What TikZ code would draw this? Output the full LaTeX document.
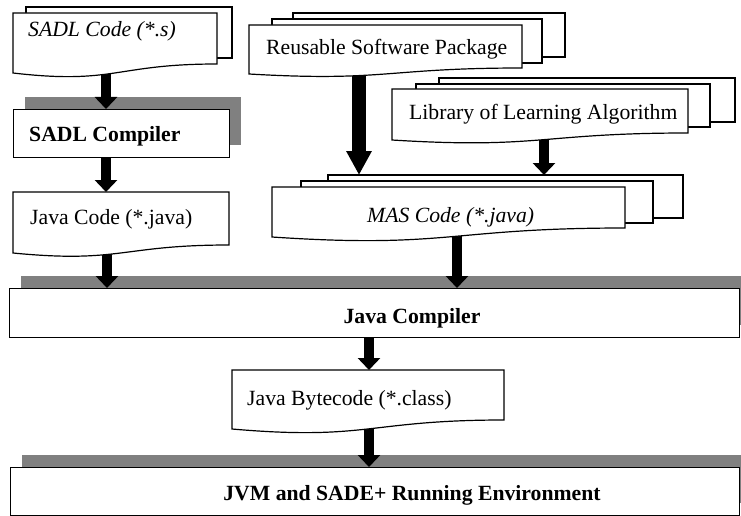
\documentclass[tikz,border=0pt]{standalone}
\usepackage{fontspec}
\setmainfont{Liberation Serif}
\usetikzlibrary{arrows.meta,calc}
\definecolor{shadegray}{HTML}{808080}

% front page of a document symbol: left x, top y, right x, right-end y, left-end y
\newcommand{\frontpage}[5]{%
  \pgfmathsetmacro{\fpmid}{(#1+#3)/2}%
  \pgfmathsetmacro{\fpdip}{#5+1.316*(#5-#4)}%
  \draw[outline] (#1,#2) -- (#3,#2) -- (#3,#4)
    .. controls (\fpmid,#4) and (\fpmid,\fpdip) .. (#1,#5) -- cycle;}
% a page stacked behind the front one
\newcommand{\backpage}[4]{\draw[outline] (#1,#2) rectangle (#3,#4);}

\begin{document}
\begin{tikzpicture}[x=1pt,y=-1pt,
  outline/.style={draw=black,line width=1.2pt,fill=white,line join=miter},
  box/.style={outline,rectangle,inner sep=0pt,anchor=north west},
  frame/.style={draw=none,rectangle,inner sep=0pt,anchor=north west},
  lbl/.style={font=\fontsize{21.7}{26}\selectfont,inner sep=0pt,anchor=base west},
  arr/.style={line width=10pt,-{Triangle[width=22pt,length=12pt]}},
  bigarr/.style={line width=14pt,-{Triangle[width=24pt,length=24pt]}}]
\useasboundingbox (0,0) rectangle (741,516);

% drop shadows of the processing boxes
\fill[shadegray] (25,97) rectangle (241,145);
\fill[shadegray] (21,276) rectangle (741,325);
\fill[shadegray] (22,455) rectangle (741,503);

% processing boxes
\node[box,minimum width=216pt,minimum height=48pt] (sadlc) at (13,109) {};
\node[box,minimum width=730pt,minimum height=49pt] (javac) at (9,288) {};
\node[box,minimum width=729pt,minimum height=48pt] (jvm) at (10,467) {};

% extents of the document symbols
\node[frame,minimum width=219pt,minimum height=66pt] (sadl) at (13,7) {};
\node[frame,minimum width=316pt,minimum height=61pt] (reuse) at (249,13) {};
\node[frame,minimum width=343pt,minimum height=62pt] (lib) at (392,78) {};
\node[frame,minimum width=411pt,minimum height=62pt] (mas) at (272,175) {};
\node[frame,minimum width=216pt,minimum height=61pt] (jcode) at (13,192) {};
\node[frame,minimum width=272pt,minimum height=59pt] (bcode) at (232,370) {};

% points where the arrows leave the wavy document bottoms
\coordinate (sadl-out) at (106,70);
\coordinate (jcode-out) at (107,250);
\coordinate (reuse-out) at (359,70);
\coordinate (lib-out) at (544,136);
\coordinate (mas-out) at (457,233);
\coordinate (bcode-out) at (369,425);
\coordinate (jc-x) at (106,0);
\coordinate (cc-x) at (369,0);

% flow arrows
\draw[arr] (sadl-out) -- (sadl-out |- sadlc.north);
\draw[arr] (sadlc.south -| jc-x) -- (jc-x |- jcode.north);
\draw[arr] (jcode-out) -- (jcode-out |- javac.north);
\draw[bigarr] (reuse-out) -- (reuse-out |- mas.north);
\draw[arr] (lib-out) -- (lib-out |- mas.north);
\draw[arr] (mas-out) -- (mas-out |- javac.north);
\draw[arr] (javac.south -| cc-x) -- (cc-x |- bcode.north);
\draw[arr] (bcode-out) -- (bcode-out |- jvm.north);

% document symbols
\backpage{26}{7}{232}{58}
\frontpage{13}{13}{217}{64}{73}

\backpage{293}{13}{565}{57}
\backpage{272}{19}{542}{63}
\frontpage{249}{25}{522}{68}{74}

\backpage{439}{78}{735}{122}
\backpage{416}{84}{710}{127}
\frontpage{392}{89}{688}{133}{140}

\backpage{328}{175}{683}{218}
\backpage{301}{181}{653}{223}
\frontpage{272}{187}{625}{228}{237}

\frontpage{13}{192}{229}{245}{253}
\frontpage{232}{370}{504}{420}{429}

% labels
\node[lbl] (sadl-t) at (28,37) {\itshape SADL Code (*.s)};
\node[lbl] (sadlc-t) at (29,141) {\bfseries SADL Compiler};
\node[lbl] (jcode-t) at (30,224) {Java Code (*.java)};
\node[lbl] (reuse-t) at (266,55) {Reusable Software Package};
\node[lbl] (lib-t) at (409,120) {Library of Learning Algorithm};
\node[lbl] (mas-t) at (367,222) {\itshape MAS Code (*.java)};
\node[lbl,anchor=base] (javac-t) at (412,323) {\bfseries Java Compiler};
\node[lbl] (bcode-t) at (247,405) {Java Bytecode (*.class)};
\node[lbl,anchor=base] (jvm-t) at (412,500) {\bfseries JVM and SADE+ Running Environment};
\end{tikzpicture}
\end{document}
